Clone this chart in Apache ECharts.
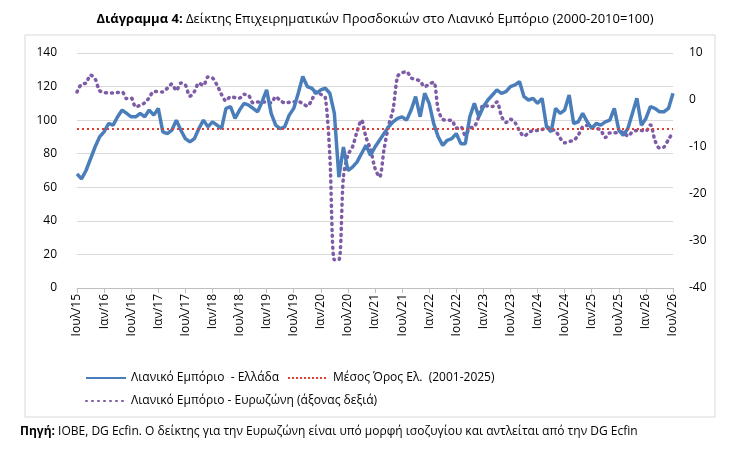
<!DOCTYPE html>
<html>
<head>
<meta charset="utf-8">
<script src="https://cdn.jsdelivr.net/npm/echarts@6/dist/echarts.min.js"></script>
<style>html,body{margin:0;padding:0;background:#fff}#main{width:750px;height:455px}</style>
</head>
<body>
<div id="main"></div>
<script>
// months Jul 2015 .. Jul 2026
const gr = ['Ιαν', 'Φεβ', 'Μαρ', 'Απρ', 'Μαϊ', 'Ιουν', 'Ιουλ', 'Αυγ', 'Σεπ', 'Οκτ', 'Νοε', 'Δεκ'];
const months = [];
for (let i = 0; i < 133; i++) {
  const m = (6 + i) % 12, y = 15 + Math.floor((6 + i) / 12);
  months.push(gr[m] + '/' + y);
}
const greece = [68, 65, 70, 77, 84, 90, 93, 98, 97, 102, 106, 104, 102, 102, 104, 102, 106, 103, 107, 93,
  92, 94, 100, 94, 89, 87, 89, 95, 100, 96, 99, 97, 95, 107, 108, 101, 106, 110, 109, 107,
  105, 111, 118, 104, 97, 95, 96, 103, 107, 116, 126, 120, 119, 116, 118, 119, 116, 104, 66, 84,
  70, 72, 75, 80, 85, 79, 84, 88, 92, 96, 99, 101, 102, 100, 106, 114, 102, 116, 110, 98,
  90, 85, 88, 89, 92, 86, 86, 102, 110, 102, 108, 112, 115, 118, 116, 117, 120, 121, 123, 114,
  112, 113, 110, 113, 96, 93, 107, 104, 106, 115, 98, 99, 104, 99, 95, 98, 97, 99, 100, 107,
  94, 91, 95, 104, 113, 97, 101, 108, 107, 105, 105, 107, 116];
const eurozone = [1.7, 3.4, 3.6, 5.3, 4.5, 2.0, 1.6, 1.5, 1.5, 1.6, 1.7, 0.3, 0.4, -1.5, -1.1, -0.6, 0.5, 1.8, 1.8, 1.7,
  2.5, 3.4, 2.0, 3.6, 3.2, 0.8, 1.8, 3.6, 3.1, 4.9, 4.7, 3.2, 1.2, -0.2, 0.7, 0.5, 0.4, 1.2, 1.0, -0.6,
  -0.4, -0.4, -0.5, -0.6, 0.7, -0.1, -0.6, -0.5, -0.4, -0.3, -0.8, -1.3, 0.0, 1.7, 1.2, 0.5, -12, -34, -34, -16.4,
  -11.7, -10, -6.8, -4.3, -7.9, -10.5, -14.5, -16.4, -10.5, -5.5, -2, 5, 5.8, 6.0, 4.7, 4.4, 4.0, 2.8, 3.4, 3.8,
  -2.1, -4.1, -4.3, -4.3, -6, -5.7, -7.5, -6, -5.7, -3.5, -1.1, -1.3, -1.4, -0.4, -3.4, -4.8, -4.1, -4.8, -6.5, -7.7,
  -7, -6.5, -6.5, -6.3, -5.7, -6.2, -6.6, -8.1, -9.1, -8.8, -8.6, -7.5, -5.7, -5.4, -5.7, -6.0, -6.4, -8, -7, -7,
  -6.9, -6.8, -7.7, -6.8, -6.5, -6.5, -6.6, -5.3, -8.6, -10.2, -10, -8.4, -6.9];
const average = 95;

const font = 'Open Sans';
const chart = echarts.init(document.getElementById('main'));
chart.setOption({
  animation: false,
  title: {
    text: '{b|Διάγραμμα 4:} Δείκτης Επιχειρηματικών Προσδοκιών στο Λιανικό Εμπόριο (2000-2010=100)',
    left: 'center', top: 8,
    textStyle: { fontFamily: font, fontSize: 13, fontWeight: 'normal', color: '#000',
      rich: { b: { fontFamily: font, fontSize: 13, fontWeight: 'bold', color: '#000' } } }
  },
  graphic: [
    { type: 'rect', shape: { x: 25, y: 35, width: 690, height: 382 },
      style: { fill: 'none', stroke: '#d9d9d9', lineWidth: 1 } },
    { type: 'text', left: 20, top: 426,
      style: { text: '{b|Πηγή:} ΙΟΒΕ, DG Ecfin. Ο δείκτης για την Ευρωζώνη είναι υπό μορφή ισοζυγίου και αντλείται από την DG Ecfin',
        font: '12px ' + font, fill: '#000',
        rich: { b: { fontWeight: 'bold', fontFamily: font, fontSize: 12, fill: '#000' } } } }
  ],
  legend: [
    { left: 80, top: 367, itemWidth: 40, itemHeight: 4, itemGap: 8,
      itemStyle: { opacity: 0 },
      data: ['Λιανικό Εμπόριο  - Ελλάδα', 'Μέσος Όρος Ελ.  (2001-2025)'],
      textStyle: { fontFamily: font, fontSize: 12, color: '#000', width: 150 } },
    { left: 80, top: 390, itemWidth: 40, itemHeight: 4,
      itemStyle: { opacity: 0 },
      data: ['Λιανικό Εμπόριο - Ευρωζώνη (άξονας δεξιά)'],
      textStyle: { fontFamily: font, fontSize: 12, color: '#000' } }
  ],
  grid: { left: 77, right: 77, top: 53, bottom: 167 },
  xAxis: {
    type: 'category', data: months, boundaryGap: false,
    axisLine: { lineStyle: { color: '#bfbfbf' } },
    axisTick: { interval: 5, lineStyle: { color: '#bfbfbf' } },
    axisLabel: { interval: 5, rotate: 90, fontFamily: font, fontSize: 12, color: '#000', margin: 6 }
  },
  yAxis: [
    { type: 'value', min: 0, max: 140, interval: 20,
      axisLabel: { fontFamily: font, fontSize: 12, color: '#000', margin: 20 },
      splitLine: { lineStyle: { color: '#d9d9d9' } } },
    { type: 'value', min: -40, max: 10, interval: 10,
      axisLabel: { fontFamily: font, fontSize: 12, color: '#000', margin: 16 },
      splitLine: { show: false } }
  ],
  series: [
    { name: 'Λιανικό Εμπόριο  - Ελλάδα', type: 'line', data: greece, symbol: 'none',
      lineStyle: { color: '#4a7ebb', width: 3.5 }, itemStyle: { color: '#4a7ebb' }, z: 3 },
    { name: 'Μέσος Όρος Ελ.  (2001-2025)', type: 'line', data: [], symbol: 'none',
      lineStyle: { color: '#e03c31', width: 2, type: 'dotted' }, itemStyle: { color: '#e03c31' },
      markLine: { silent: true, symbol: 'none', label: { show: false },
        lineStyle: { color: '#e03c31', width: 2, type: [2, 3] }, data: [{ yAxis: average }] } },
    { name: 'Λιανικό Εμπόριο - Ευρωζώνη (άξονας δεξιά)', type: 'line', yAxisIndex: 1, data: eurozone,
      symbol: 'none', smooth: 0.3,
      lineStyle: { color: '#7d5ba6', width: 3.5, type: [1, 5], cap: 'round' }, itemStyle: { color: '#7d5ba6' }, z: 2 }
  ]
});
</script>
</body>
</html>
